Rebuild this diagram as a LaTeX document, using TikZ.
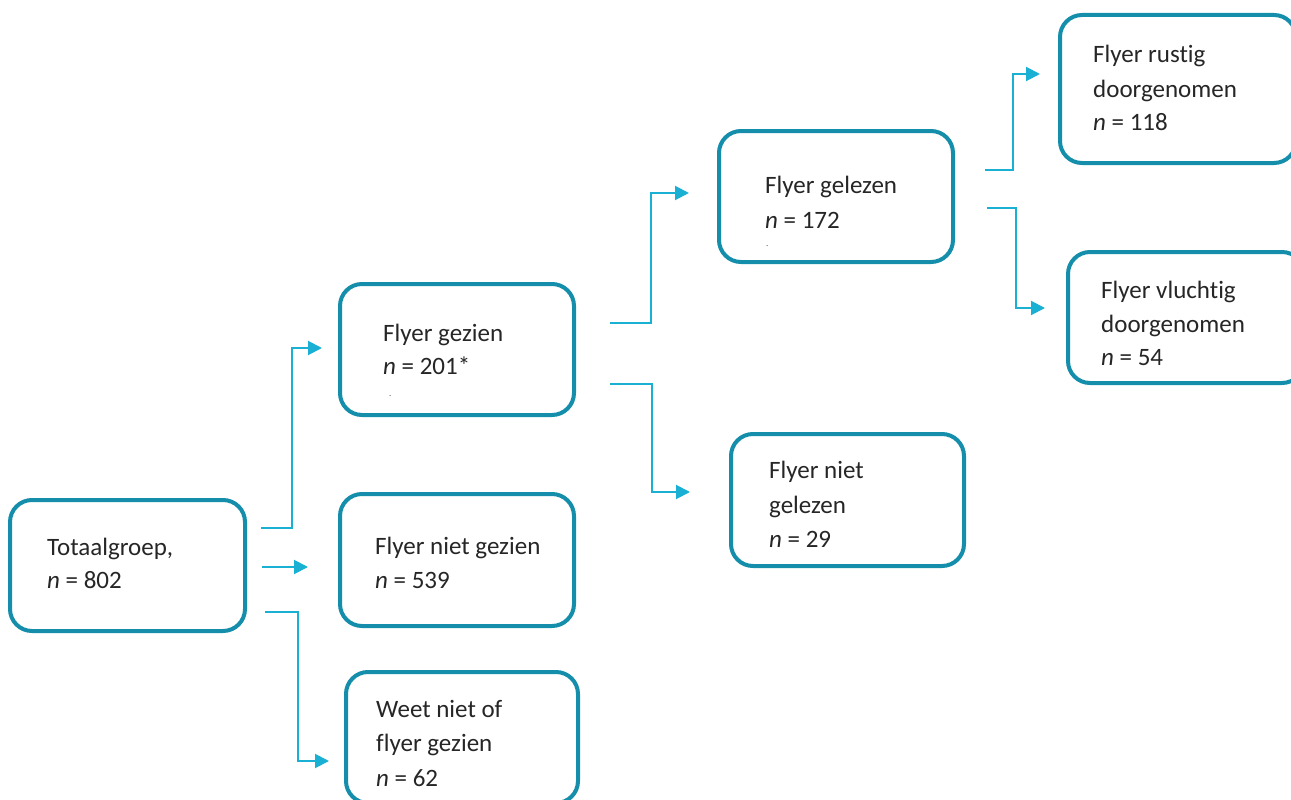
\documentclass[tikz,border=0pt]{standalone}
\usepackage{fontspec}
\setmainfont[Ligatures={NoCommon}]{Carlito}
\usetikzlibrary{arrows.meta}
\definecolor{boxc}{RGB}{20,142,170}
\definecolor{arrc}{RGB}{25,176,212}
\begin{document}
\begin{tikzpicture}[x=1pt,y=-1pt,
  box/.style={draw=boxc,line width=4pt,rounded corners=22pt,fill=white,minimum width=234pt,minimum height=131pt,inner sep=0pt},
  lbl/.style={anchor=base west,inner sep=0pt,font=\fontsize{25}{34}\selectfont,color=black!85},
  dotl/.style={anchor=base west,inner sep=0pt,font=\fontsize{9}{9}\selectfont,color=black!70},
  conn/.style={draw=arrc,line width=2pt,-{Triangle[length=14pt,width=14pt]}}]
\useasboundingbox (0,0) rectangle (1291,800);
% boxes
\node[box,minimum width=235pt] (tot) at (127.5,565.5) {};
\node[box] (gez) at (457,349.5) {};
\node[box,minimum height=132pt] (ngez) at (457,560) {};
\node[box,minimum width=232pt] (weet) at (462,737.5) {};
\node[box] (gel) at (836,196.5) {};
\node[box,minimum width=233pt,minimum height=132pt] (ngel) at (847.5,500) {};
\node[box,minimum width=236pt,minimum height=148pt] (rust) at (1178,89) {};
\node[box,minimum width=236pt] (vlu) at (1186,317.5) {};
% labels
\node[lbl] (totA) at (47,555) {Totaalgroep,};
\node[lbl] (totB) at (47,588) {\itshape n\upshape{} = 802};
\node[lbl] (gezA) at (383,341) {Flyer gezien};
\node[lbl] (gezB) at (383,374) {\itshape n\upshape{} = 201*};
\node[dotl] (gezC) at (389,396) {.};
\node[lbl] (ngezA) at (375,554) {Flyer niet gezien};
\node[lbl] (ngezB) at (375,588) {\itshape n\upshape{} = 539};
\node[lbl] (weetA) at (376,717) {Weet niet of};
\node[lbl] (weetB) at (376,751) {flyer gezien};
\node[lbl] (weetC) at (376,786) {\itshape n\upshape{} = 62};
\node[lbl] (gelA) at (765,193) {Flyer gelezen};
\node[lbl] (gelB) at (765,228) {\itshape n\upshape{} = 172};
\node[dotl] (gelC) at (766,246) {.};
\node[lbl] (ngelA) at (769,478) {Flyer niet};
\node[lbl] (ngelB) at (769,513) {gelezen};
\node[lbl] (ngelC) at (769,547) {\itshape n\upshape{} = 29};
\node[lbl] (rustA) at (1093,63) {Flyer rustig};
\node[lbl] (rustB) at (1093,97) {doorgenomen};
\node[lbl] (rustC) at (1093,130) {\itshape n\upshape{} = 118};
\node[lbl] (vluA) at (1101,298) {Flyer vluchtig};
\node[lbl] (vluB) at (1101,332) {doorgenomen};
\node[lbl] (vluC) at (1101,365) {\itshape n\upshape{} = 54};
% connector endpoints
\coordinate (c1s) at (261,528); \coordinate (c1e) at (322,348);
\coordinate (c2s) at (262,567); \coordinate (c2e) at (308,567);
\coordinate (c3s) at (265,612); \coordinate (c3e) at (329,761);
\coordinate (c4s) at (610,323); \coordinate (c4e) at (689,193);
\coordinate (c5s) at (610,384); \coordinate (c5e) at (690,492);
\coordinate (c6s) at (985,170); \coordinate (c6e) at (1040,74);
\coordinate (c7s) at (987,208); \coordinate (c7e) at (1045,308);
\draw[conn] (c1s) -- (292,528) -- (292,348) -- (c1e);
\draw[conn] (c2s) -- (c2e);
\draw[conn] (c3s) -- (298,612) -- (298,761) -- (c3e);
\draw[conn] (c4s) -- (651,323) -- (651,193) -- (c4e);
\draw[conn] (c5s) -- (652,384) -- (652,492) -- (c5e);
\draw[conn] (c6s) -- (1013,170) -- (1013,74) -- (c6e);
\draw[conn] (c7s) -- (1016,208) -- (1016,308) -- (c7e);
\end{tikzpicture}
\end{document}
